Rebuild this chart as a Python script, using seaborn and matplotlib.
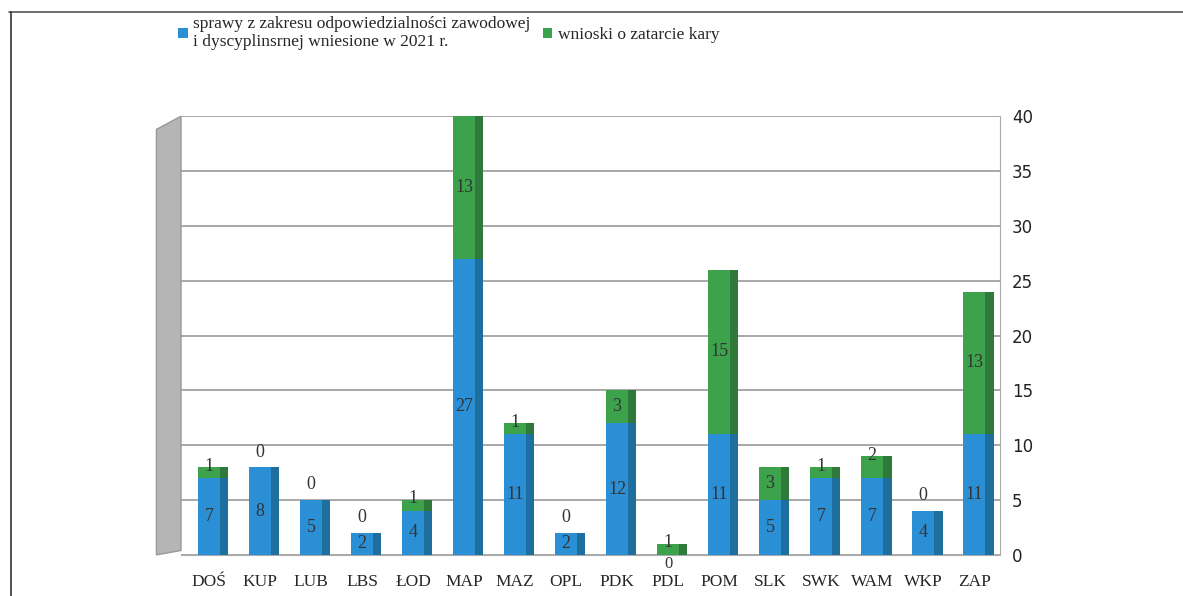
import pandas as pd
import matplotlib.pyplot as plt
import seaborn as sns
from matplotlib.lines import Line2D
from matplotlib.patches import Polygon

regions = ["DOŚ", "KUP", "LUB", "LBS", "ŁOD", "MAP", "MAZ", "OPL",
           "PDK", "PDL", "POM", "SLK", "SWK", "WAM", "WKP", "ZAP"]
sprawy = [7, 8, 5, 2, 4, 27, 11, 2, 12, 0, 11, 5, 7, 7, 4, 11]
wnioski = [1, 0, 0, 0, 1, 13, 1, 0, 3, 1, 15, 3, 1, 2, 0, 13]
label_sprawy = "sprawy z zakresu odpowiedzialności zawodowej\ni dyscyplinsrnej wniesione w 2021 r."
label_wnioski = "wnioski o zatarcie kary"
yticks = [0, 5, 10, 15, 20, 25, 30, 35, 40]

blue = "#2b8fd6"
green = "#3da24c"
blue_side = "#1f6f9e"
green_side = "#2f7a3a"

df = pd.DataFrame({"region": regions, "sprawy": sprawy, "wnioski": wnioski})
df["total"] = df["sprawy"] + df["wnioski"]

sns.set_style("white")
plt.rcParams["font.family"] = ["Liberation Serif", "DejaVu Serif"]

fig = plt.figure(figsize=(11.83, 5.96), dpi=100)
ax = fig.add_axes([0.153, 0.069, 0.692, 0.736])

# stacked: total first (green), then blue on top of it
sns.barplot(data=df, x="region", y="total", color=green, width=0.44,
            saturation=1, ax=ax, label=label_wnioski, zorder=3, linewidth=0)
sns.barplot(data=df, x="region", y="sprawy", color=blue, width=0.44,
            saturation=1, ax=ax, label=label_sprawy, zorder=3, linewidth=0)
handles, labels = ax.get_legend_handles_labels()
if ax.get_legend() is not None:
    ax.get_legend().remove()

# darker right side faces for a bit of depth
xs = range(len(regions))
ax.bar([x + 0.30 for x in xs], df["total"], width=0.16, color=green_side, zorder=3, linewidth=0)
ax.bar([x + 0.30 for x in xs], df["sprawy"], width=0.16, color=blue_side, zorder=3, linewidth=0)

ax.set_xlim(-0.55, 15.5)
ax.set_ylim(0, 40)
ax.set_yticks(yticks)
ax.yaxis.tick_right()
ax.tick_params(axis="y", labelsize=12, pad=9, length=0, labelfontfamily="DejaVu Sans")
ax.tick_params(axis="x", labelsize=12.5, pad=14, length=0)
for lab in ax.get_yticklabels():
    lab.set_color("#222222")
ax.set_xlabel("")
ax.set_ylabel("")
ax.grid(axis="y", color="#9a9a9a", linewidth=1.2, zorder=0)
for s in ["top", "left"]:
    ax.spines[s].set_visible(False)
ax.spines["right"].set_color("#aaaaaa")
ax.spines["bottom"].set_color("#aaaaaa")

# value labels
for i, row in df.iterrows():
    if row["sprawy"] > 0:
        ax.text(i, row["sprawy"] / 2, str(row["sprawy"]), ha="center", va="center",
                fontsize=13, color="#333333", zorder=5)
    else:
        ax.text(i, -0.1, "0", ha="center", va="top", fontsize=12, color="#333333", zorder=5)
    if row["wnioski"] > 0:
        y = row["sprawy"] + row["wnioski"] / 2 if row["wnioski"] > 2 else row["total"] + 0.1
        ax.text(i, y, str(row["wnioski"]), ha="center", va="center",
                fontsize=13, color="#333333", zorder=5)
    else:
        ax.text(i, row["total"] + 0.6, "0", ha="center", va="bottom",
                fontsize=13, color="#333333", zorder=5)

# grey side wall on the left
ax.add_patch(Polygon([[-0.03, 0.0], [-0.03, 0.97], [0.0, 1.0], [0.0, 0.01]],
                     closed=True, transform=ax.transAxes, facecolor="#b5b5b5",
                     edgecolor="#999999", clip_on=False, zorder=1))

# legend
order = [labels.index(label_sprawy), labels.index(label_wnioski)]
fig.legend([handles[k] for k in order], [labels[k] for k in order],
           loc="upper left", bbox_to_anchor=(0.145, 0.985), ncol=2, frameon=False,
           fontsize=12.5, handlelength=0.55, handleheight=0.55, handletextpad=0.3,
           columnspacing=0.7, borderaxespad=0)

# page frame
fig.add_artist(Line2D([0.008, 1.0], [0.98, 0.98], color="#555555", linewidth=1.2))
fig.add_artist(Line2D([0.009, 0.009], [0.0, 0.98], color="#333333", linewidth=1.2))

fig.savefig("out.png", dpi=100)
